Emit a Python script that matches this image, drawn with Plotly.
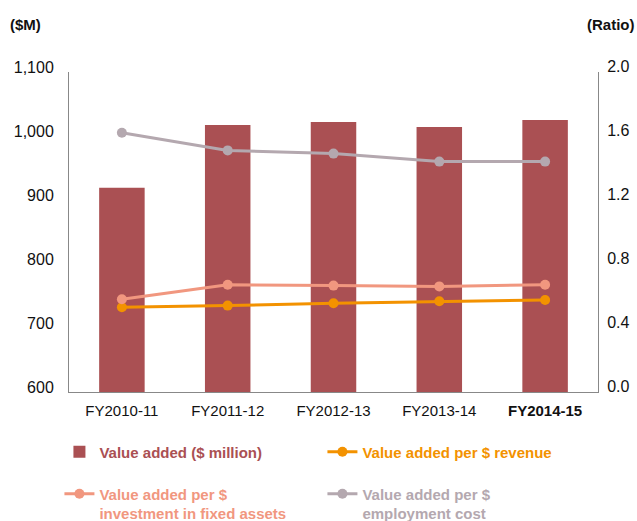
import plotly.graph_objects as go

categories = ["FY2010-11", "FY2011-12", "FY2012-13", "FY2013-14", "FY2014-15"]
tick_labels = ["FY2010-11", "FY2011-12", "FY2012-13", "FY2013-14", "<b>FY2014-15</b>"]
value_added = [919, 1017, 1022, 1014, 1025]
per_revenue = [0.53, 0.54, 0.555, 0.567, 0.575]
per_fixed_assets = [0.58, 0.67, 0.665, 0.66, 0.67]
per_employment = [1.62, 1.51, 1.49, 1.44, 1.44]

C_BAR = "#AA5053"
C_ORANGE = "#F39200"
C_SALMON = "#F1977F"
C_GRAY = "#B4A8AF"
FONT = "Liberation Sans, Arial, sans-serif"

def lname(text, color):
    return f'<span style="color:{color}"><b>{text}</b></span>'

fig = go.Figure()
fig.add_trace(go.Bar(x=categories, y=value_added, marker_color=C_BAR, width=0.43,
                     name=lname("Value added ($ million)", C_BAR) + "<br> "))
fig.add_trace(go.Scatter(x=categories, y=per_revenue, yaxis="y2", mode="lines+markers",
                         line=dict(color=C_ORANGE, width=3), marker=dict(size=10, color=C_ORANGE),
                         name=lname("Value added per $ revenue", C_ORANGE) + "<br> "))
fig.add_trace(go.Scatter(x=categories, y=per_fixed_assets, yaxis="y2", mode="lines+markers",
                         line=dict(color=C_SALMON, width=3), marker=dict(size=10, color=C_SALMON),
                         name=lname("Value added per $<br>investment in fixed assets", C_SALMON)))
fig.add_trace(go.Scatter(x=categories, y=per_employment, yaxis="y2", mode="lines+markers",
                         line=dict(color=C_GRAY, width=3), marker=dict(size=10, color=C_GRAY),
                         name=lname("Value added per $<br>employment cost", C_GRAY)))

fig.update_layout(
    template="none",
    width=637, height=521,
    margin=dict(l=69, r=39, t=72, b=129, autoexpand=False),
    paper_bgcolor="white", plot_bgcolor="white",
    font=dict(family=FONT, size=13, color="#222"),
    xaxis=dict(tickmode="array", tickvals=categories, ticktext=tick_labels, automargin=False,
               showline=True, linecolor="#888", linewidth=1, ticks="", ticklen=0,
               tickfont=dict(size=15, color="#111"), showgrid=False, ticklabelstandoff=5),
    yaxis=dict(range=[600, 1100], dtick=100, tickformat=",", showline=True, automargin=False,
               linecolor="#888", linewidth=1, showgrid=False, zeroline=False,
               tickfont=dict(size=16, color="#111"), ticks="", ticklen=0,
               ticklabelstandoff=11, ticklabelshift=-5),
    yaxis2=dict(range=[0, 2], dtick=0.4, tickformat=".1f", overlaying="y", side="right",
                showline=True, linecolor="#888", linewidth=1, showgrid=False, zeroline=False,
                automargin=False,
                tickfont=dict(size=16, color="#111"), ticks="", ticklen=0,
                ticklabelstandoff=5, ticklabelshift=-6),
    showlegend=True,
    legend=dict(orientation="h", xref="container", yref="container", x=0.0933, y=0.1641,
                xanchor="left", yanchor="top",
                entrywidth=218, entrywidthmode="pixels", valign="top",
                font=dict(size=15, family=FONT), itemwidth=30, tracegroupgap=0,
                bgcolor="rgba(0,0,0,0)"),
    annotations=[
        dict(text="<b>($M)</b>", xref="paper", yref="paper", x=0, y=1, xshift=-61, yshift=48,
             xanchor="left", yanchor="middle", showarrow=False, font=dict(size=15, color="#111")),
        dict(text="<b>(Ratio)</b>", xref="paper", yref="paper", x=1, y=1, xshift=-13, yshift=48,
             xanchor="left", yanchor="middle", showarrow=False, font=dict(size=15, color="#111")),
    ],
)

fig.write_html("out.html", config={"displayModeBar": False},
               post_script="document.body.style.margin='0';")
